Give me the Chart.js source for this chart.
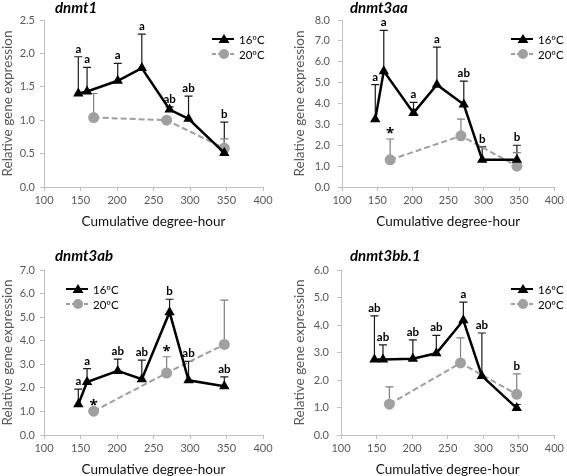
<!DOCTYPE html>
<html lang="en">
<head>
  <meta charset="UTF-8" />
  <title>dnmt expression vs cumulative degree-hour</title>
  <style>
    body {
      margin: 0;
      background: #fff;
    }
    .board {
      position: relative;
      width: 567px;
      height: 476px;
    }
    .board canvas {
      position: absolute;
    }
  </style>
  <script src="https://cdn.jsdelivr.net/npm/chart.js"></script>
</head>
<body>

<div class="board">
  <canvas id="c1" width="283" height="238" style="left:0;top:0"></canvas>
  <canvas id="c2" width="284" height="238" style="left:283px;top:0"></canvas>
  <canvas id="c3" width="283" height="238" style="left:0;top:238px"></canvas>
  <canvas id="c4" width="284" height="238" style="left:283px;top:238px"></canvas>
</div>

<script>
  // sampling points (cumulative degree-hour)
  const x16 = [147, 159, 201, 234, 272, 298, 347];
  const x20 = [168, 268, 347];
  const xTicks = [100, 150, 200, 250, 300, 350, 400];

  // dnmt1
  const dnmt1_16 = [1.40, 1.43, 1.59, 1.78, 1.16, 1.02, 0.51];
  const dnmt1_16err = [0.55, 0.36, 0.26, 0.51, 0.04, 0.34, 0.46];
  const dnmt1_20 = [1.04, 1.00, 0.58];
  const dnmt1_20err = [0.36, 0.02, 0.14];
  const dnmt1_letters = ['a', 'a', 'a', 'a', 'ab', 'ab', 'b'];
  const dnmt1_stars = ['', '', ''];

  // dnmt3aa
  const dnmt3aa_16 = [3.25, 5.55, 3.55, 4.90, 3.95, 1.30, 1.30];
  const dnmt3aa_16err = [1.65, 1.95, 0.50, 1.80, 1.12, 0.62, 0.70];
  const dnmt3aa_20 = [1.30, 2.45, 1.00];
  const dnmt3aa_20err = [1.00, 0.80, 0.65];
  const dnmt3aa_letters = ['a', 'a', 'a', 'a', 'ab', 'b', 'b'];
  const dnmt3aa_stars = ['*', '', ''];

  // dnmt3ab
  const dnmt3ab_16 = [1.30, 2.25, 2.72, 2.37, 5.21, 2.32, 2.07];
  const dnmt3ab_16err = [0.65, 0.57, 0.50, 0.81, 0.55, 0.80, 0.40];
  const dnmt3ab_20 = [1.01, 2.63, 3.84];
  const dnmt3ab_20err = [0, 0.69, 1.88];
  const dnmt3ab_letters = ['a', 'a', 'ab', 'ab', 'b', 'ab', 'ab'];
  const dnmt3ab_stars = ['*', '*', ''];

  // dnmt3bb.1
  const dnmt3bb1_16 = [2.75, 2.75, 2.77, 2.97, 4.17, 2.15, 0.98];
  const dnmt3bb1_16err = [1.58, 0.53, 0.69, 0.65, 0.66, 1.56, 0.13];
  const dnmt3bb1_20 = [1.12, 2.62, 1.48];
  const dnmt3bb1_20err = [0.63, 0.91, 0.74];
  const dnmt3bb1_letters = ['ab', 'ab', 'ab', 'ab', 'a', 'ab', 'b'];
  const dnmt3bb1_stars = ['', '', ''];

  const FONT = 'Lato, "Open Sans", sans-serif';
  Chart.defaults.font.family = FONT;

  const BLACK = '#000000';
  const GREY = '#a0a0a0';
  const GREY_BAR = '#808080';

  // error bars, letters, legend and gene name
  const extras = {
    id: 'extras',
    beforeDatasetsDraw(chart) {
      const ctx = chart.ctx;
      const ys = chart.scales.y;
      chart.data.datasets.forEach((ds, d) => {
        const meta = chart.getDatasetMeta(d);
        ctx.save();
        ctx.strokeStyle = d === 0 ? '#1a1a1a' : GREY_BAR;
        ctx.lineWidth = 1.2;
        meta.data.forEach((pt, i) => {
          const e = ds.err[i];
          if (!e) return;
          const top = ys.getPixelForValue(ds.data[i].y + e);
          ctx.beginPath();
          ctx.moveTo(pt.x, pt.y);
          ctx.lineTo(pt.x, top);
          ctx.moveTo(pt.x - 4, top);
          ctx.lineTo(pt.x + 4, top);
          ctx.stroke();
        });
        ctx.restore();
      });
    },
    afterDatasetsDraw(chart, args, o) {
      const ctx = chart.ctx;
      const ys = chart.scales.y;
      const xs = chart.scales.x;
      const d16 = chart.data.datasets[0];
      const d20 = chart.data.datasets[1];
      ctx.save();
      ctx.fillStyle = BLACK;
      ctx.textAlign = 'center';
      ctx.textBaseline = 'alphabetic';
      ctx.font = 'bold 11.5px ' + FONT;
      d16.data.forEach((p, i) => {
        let top = p.y + d16.err[i];
        if (o.letterAboveBoth) {
          d20.data.forEach((q, j) => {
            if (q.x === p.x) top = Math.max(top, q.y + d20.err[j]);
          });
        }
        ctx.fillText(o.letters[i], xs.getPixelForValue(p.x), ys.getPixelForValue(top) - 4);
      });
      ctx.font = 'bold 15px "Open Sans", sans-serif';
      d20.data.forEach((q, j) => {
        if (!o.stars[j]) return;
        ctx.fillText(o.stars[j], xs.getPixelForValue(q.x), ys.getPixelForValue(q.y + d20.err[j]) - 1);
      });

      // legend
      const lg = o.legend;
      [0, 1].forEach(k => {
        const y = lg.y + k * 15;
        ctx.beginPath();
        ctx.lineWidth = 2;
        ctx.strokeStyle = k === 0 ? BLACK : GREY;
        ctx.setLineDash(k === 0 ? [] : [4, 2]);
        ctx.moveTo(lg.x, y);
        ctx.lineTo(lg.x + 22, y);
        ctx.stroke();
        ctx.setLineDash([]);
        const mx = lg.x + 12;
        ctx.fillStyle = k === 0 ? BLACK : GREY;
        ctx.beginPath();
        if (k === 0) {
          ctx.moveTo(mx, y - 5);
          ctx.lineTo(mx + 5.5, y + 4);
          ctx.lineTo(mx - 5.5, y + 4);
          ctx.closePath();
        } else {
          ctx.arc(mx, y, 5, 0, Math.PI * 2);
        }
        ctx.fill();
        ctx.fillStyle = BLACK;
        ctx.textAlign = 'left';
        ctx.textBaseline = 'middle';
        ctx.font = '11.5px ' + FONT;
        ctx.fillText(k === 0 ? '16ºC' : '20ºC', lg.x + 27, y + 1);
      });

      // gene name
      ctx.font = 'italic bold 15px ' + FONT;
      ctx.textAlign = 'left';
      ctx.textBaseline = 'middle';
      ctx.fillStyle = BLACK;
      ctx.fillText(o.title.text, o.title.x, o.title.y);
      ctx.restore();
    }
  };

  function makeChart(id, p) {
    const pts = (xv, yv) => xv.map((x, i) => ({ x: x, y: yv[i] }));
    return new Chart(document.getElementById(id), {
      type: 'scatter',
      data: {
        datasets: [
          {
            label: '16ºC',
            data: pts(x16, p.v16),
            err: p.e16,
            showLine: true,
            borderColor: BLACK,
            borderWidth: 2.5,
            pointStyle: 'triangle',
            pointRadius: 6,
            pointBackgroundColor: BLACK,
            pointBorderColor: BLACK,
            pointBorderWidth: 0
          },
          {
            label: '20ºC',
            data: pts(x20, p.v20),
            err: p.e20,
            showLine: true,
            borderColor: GREY,
            borderWidth: 2,
            borderDash: [6, 3],
            pointStyle: 'circle',
            pointRadius: 5.5,
            pointBackgroundColor: GREY,
            pointBorderColor: GREY,
            pointBorderWidth: 0
          }
        ]
      },
      options: {
        responsive: false,
        animation: false,
        devicePixelRatio: 1,
        layout: { padding: { top: p.top, right: p.right, left: 0, bottom: 0 } },
        plugins: {
          legend: { display: false },
          tooltip: { enabled: false },
          extras: { letters: p.letters, stars: p.stars, legend: p.legend, title: p.title, letterAboveBoth: p.letterAboveBoth }
        },
        scales: {
          x: {
            type: 'linear',
            min: 100,
            max: 400,
            afterBuildTicks: s => { s.ticks = xTicks.map(v => ({ value: v })); },
            ticks: { color: '#595959', font: { size: 11 }, padding: 3, maxRotation: 0 },
            grid: { drawOnChartArea: false, tickLength: 4, color: '#bfbfbf' },
            border: { color: '#bfbfbf' },
            title: {
              display: true,
              text: 'Cumulative degree-hour',
              color: '#111',
              font: { size: 13.5, lineHeight: 1 },
              padding: { top: 0, bottom: p.xTitlePad }
            },
            afterFit: s => { s.height = p.xAxisH; }
          },
          y: {
            min: 0,
            max: p.ymax,
            ticks: {
              stepSize: p.step,
              color: '#595959',
              font: { size: 11 },
              padding: p.yTickPad,
              callback: v => v.toFixed(1)
            },
            grid: { drawOnChartArea: false, tickLength: 4, color: '#bfbfbf' },
            border: { color: '#bfbfbf' },
            title: {
              display: true,
              text: 'Relative gene expression',
              color: '#595959',
              font: { size: 13.5, lineHeight: 1 },
              padding: { top: p.yTitlePad, bottom: 0 }
            },
            afterFit: s => { s.width = p.yAxisW; }
          }
        }
      },
      plugins: [extras]
    });
  }

  makeChart('c1', {
    v16: dnmt1_16, e16: dnmt1_16err, v20: dnmt1_20, e20: dnmt1_20err,
    letters: dnmt1_letters, stars: dnmt1_stars,
    ymax: 2.5, step: 0.5,
    top: 20, right: 20, yAxisW: 44, xAxisH: 51, xTitlePad: 9.5, yTitlePad: 1, yTickPad: 5,
    legend: { x: 212, y: 39 },
    title: { text: 'dnmt1', x: 55, y: 8 }
  });

  makeChart('c2', {
    v16: dnmt3aa_16, e16: dnmt3aa_16err, v20: dnmt3aa_20, e20: dnmt3aa_20err,
    letters: dnmt3aa_letters, stars: dnmt3aa_stars,
    ymax: 8, step: 1,
    top: 20, right: 9, yAxisW: 59, xAxisH: 51, xTitlePad: 9.5, yTitlePad: 10, yTickPad: 8,
    legend: { x: 228, y: 39 },
    title: { text: 'dnmt3aa', x: 67, y: 8 }
  });

  makeChart('c3', {
    v16: dnmt3ab_16, e16: dnmt3ab_16err, v20: dnmt3ab_20, e20: dnmt3ab_20err,
    letters: dnmt3ab_letters, stars: dnmt3ab_stars,
    ymax: 7, step: 1,
    top: 32, right: 20, yAxisW: 44, xAxisH: 41, xTitlePad: 0, yTitlePad: 1, yTickPad: 5,
    legend: { x: 66, y: 51 },
    title: { text: 'dnmt3ab', x: 55, y: 18 }
  });

  makeChart('c4', {
    v16: dnmt3bb1_16, e16: dnmt3bb1_16err, v20: dnmt3bb1_20, e20: dnmt3bb1_20err,
    letters: dnmt3bb1_letters, stars: dnmt3bb1_stars,
    ymax: 6, step: 1, letterAboveBoth: true,
    top: 32, right: 9, yAxisW: 58, xAxisH: 41, xTitlePad: 0, yTitlePad: 10, yTickPad: 8,
    legend: { x: 228, y: 51 },
    title: { text: 'dnmt3bb.1', x: 67, y: 18 }
  });
</script>

</body>
</html>
